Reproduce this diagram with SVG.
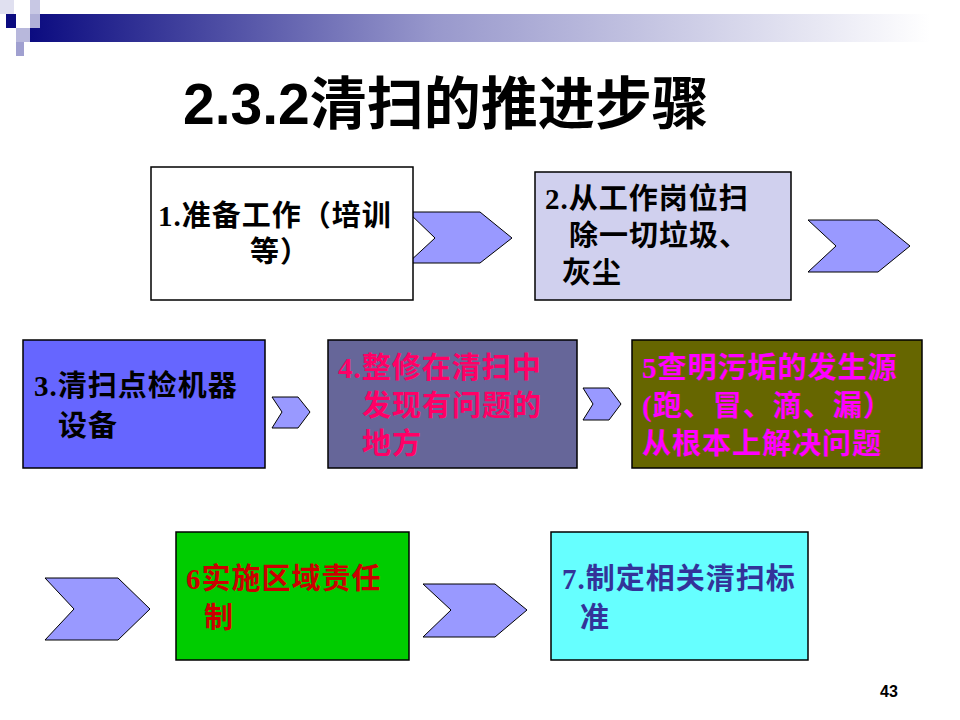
<svg xmlns="http://www.w3.org/2000/svg" width="960" height="720" viewBox="0 0 960 720">
<defs>
<linearGradient id="bar" x1="0" x2="1" y1="0" y2="0">
<stop offset="0" stop-color="#0b0b80"/><stop offset="0.45" stop-color="#9898cc"/><stop offset="1" stop-color="#ffffff"/>
</linearGradient>
</defs>
<style>
.t{font-family:"Liberation Serif","Noto Sans CJK SC",serif;font-weight:bold;font-size:29px;letter-spacing:1px}
.box{stroke:#000;stroke-width:1.5}
.chev{fill:#9999ff;stroke:#000;stroke-width:1}
</style>
<rect width="960" height="720" fill="#fff"/>
<g id="decor">
<rect x="30" y="14" width="900" height="28" fill="url(#bar)"/>
<rect x="0" y="0" width="14" height="14" fill="#e0e0f0"/>
<rect x="30" y="0" width="10" height="14" fill="#c8c8e4"/>
<rect x="6" y="14" width="10" height="14" fill="#0b0b80"/>
<rect x="30" y="14" width="10" height="14" fill="#b0b0d8"/>
<rect x="16" y="28" width="14" height="14" fill="#b8b8dc"/>
<rect x="16" y="42" width="8" height="14" fill="#a0a0d0"/>
</g>
<text x="183" y="124" font-family="Liberation Sans,Noto Sans CJK SC,sans-serif" font-weight="bold" font-size="57" fill="#000">2.3.2清扫的推进步骤</text>
<g id="connectors">
<polygon class="chev" points="408,212 480,212 512,238 480,263 408,263 435,238"/>
<polygon class="chev" points="808,220 878,220 910,246 878,272 808,272 836,246"/>
<polygon class="chev" points="272,397 298,397 310,412 298,428 272,428 282,412"/>
<polygon class="chev" points="583,388 609,388 621,404 609,420 583,420 593,404"/>
<polygon class="chev" points="45,578 118,578 150,609 118,640 45,640 74,609"/>
<polygon class="chev" points="423,584 495,584 527,610 495,637 423,637 451,610"/>
</g>
<g id="n1"><rect class="box" x="151" y="167" width="262" height="133" fill="#fff"/>
<text class="t" fill="#000"><tspan x="158" y="226">1.准备工作（培训</tspan><tspan x="250" y="262">等）</tspan></text></g>
<g id="n2"><rect class="box" x="535" y="172" width="256" height="128" fill="#d0d0ee"/>
<text class="t" fill="#000"><tspan x="545" y="209">2.从工作岗位扫</tspan><tspan x="569" y="246">除一切垃圾、</tspan><tspan x="562" y="283">灰尘</tspan></text></g>
<g id="n3"><rect class="box" x="23" y="340" width="242" height="128" fill="#6666ff"/>
<text class="t" fill="#000"><tspan x="34" y="396">3.清扫点检机器</tspan><tspan x="58" y="436">设备</tspan></text></g>
<g id="n4"><rect class="box" x="328" y="340" width="249" height="128" fill="#666699"/>
<text class="t" fill="#ff0066"><tspan x="338" y="378">4.整修在清扫中</tspan><tspan x="362" y="416">发现有问题的</tspan><tspan x="362" y="454">地方</tspan></text></g>
<g id="n5"><rect class="box" x="632" y="340" width="290" height="128" fill="#666600"/>
<text class="t" fill="#ff00ff"><tspan x="642" y="378">5查明污垢的发生源</tspan><tspan x="642" y="416">(跑、冒、滴、漏）</tspan><tspan x="642" y="454">从根本上解决问题</tspan></text></g>
<g id="n6"><rect class="box" x="176" y="532" width="233" height="128" fill="#00cc00"/>
<text class="t" fill="#cc0000"><tspan x="186" y="589">6实施区域责任</tspan><tspan x="204" y="628">制</tspan></text></g>
<g id="n7"><rect class="box" x="551" y="532" width="257" height="128" fill="#66ffff"/>
<text class="t" fill="#333399"><tspan x="562" y="589">7.制定相关清扫标</tspan><tspan x="580" y="628">准</tspan></text></g>
<text x="880" y="697" font-family="Liberation Sans,sans-serif" font-weight="bold" font-size="16" fill="#000">43</text>
</svg>
